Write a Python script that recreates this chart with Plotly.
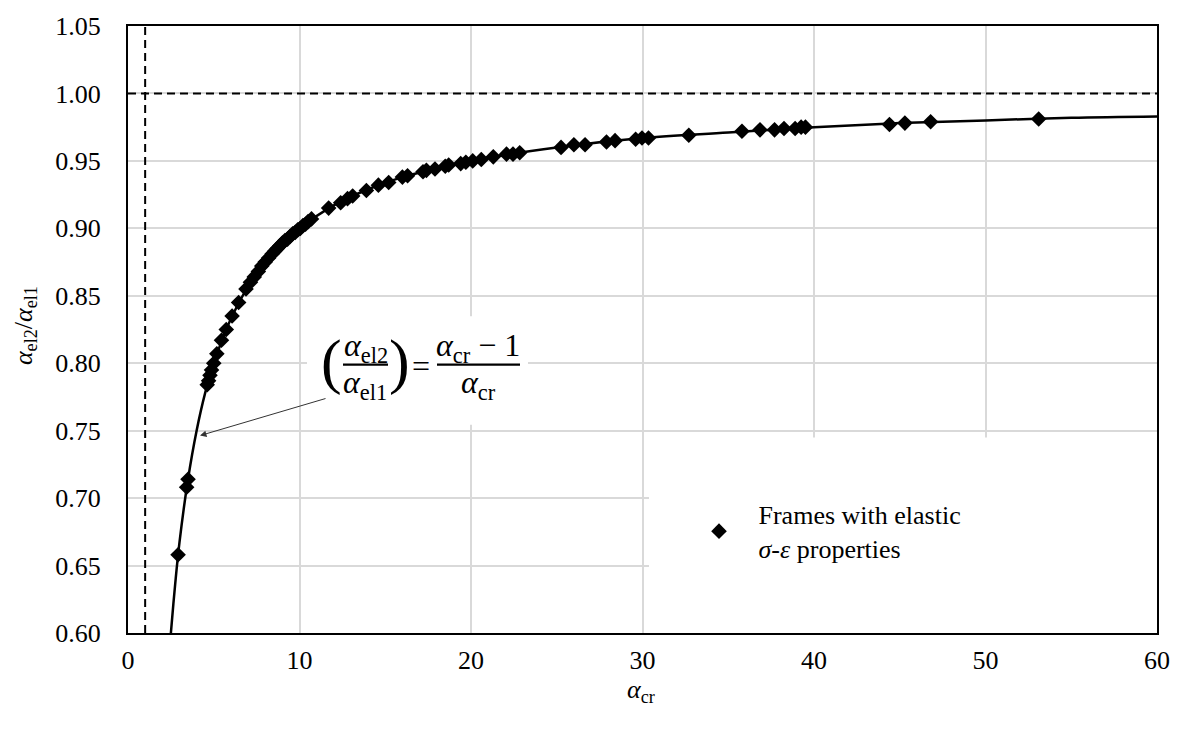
import plotly.graph_objects as go

# ---------------- data ----------------
alpha_cr = [2.92, 3.42, 3.50, 4.62, 4.70, 4.78, 4.87, 5.00, 5.18, 5.45, 5.73, 6.07,
            6.45, 6.88, 7.14, 7.36, 7.60, 7.80, 8.00, 8.20, 8.40, 8.55, 8.70, 8.85,
            9.00, 9.15, 9.30, 9.45, 9.60, 9.75, 9.90, 10.05, 10.20, 10.35, 10.50, 10.70,
            11.7, 12.4, 12.8, 13.1, 13.9, 14.6, 15.2, 16.0, 16.3, 17.2, 17.4, 17.9,
            18.5, 18.7, 19.4, 19.7, 20.1, 20.6, 21.3, 22.07, 22.45, 22.84, 25.25, 26.0,
            26.65, 27.9, 28.4, 29.6, 29.97, 30.35, 32.7, 35.8, 36.85, 37.7, 38.25, 38.9,
            39.25, 39.5, 44.4, 45.3, 46.8, 53.1]
ratio = [0.658, 0.708, 0.714, 0.784, 0.787, 0.791, 0.795, 0.800, 0.807, 0.817, 0.825, 0.835,
         0.845, 0.855, 0.860, 0.864, 0.868, 0.872, 0.875, 0.878, 0.881, 0.883, 0.885, 0.887,
         0.889, 0.891, 0.892, 0.894, 0.896, 0.897, 0.899, 0.900, 0.902, 0.903, 0.905, 0.907,
         0.915, 0.919, 0.922, 0.924, 0.928, 0.932, 0.934, 0.938, 0.939, 0.942, 0.943, 0.944,
         0.946, 0.947, 0.948, 0.949, 0.950, 0.951, 0.953, 0.955, 0.955, 0.956, 0.960, 0.962,
         0.962, 0.964, 0.965, 0.966, 0.967, 0.967, 0.969, 0.972, 0.973, 0.973, 0.974, 0.974,
         0.975, 0.975, 0.977, 0.978, 0.979, 0.981]

curve_alpha_cr = [2.4, 2.5, 2.75, 3.0, 3.5, 4.0, 4.5, 5.0, 6.0, 7.0, 8.0, 9.0, 10.0, 12.0,
                  14.0, 16.0, 18.0, 20.0, 25.0, 30.0, 35.0, 40.0, 45.0, 50.0, 55.0, 60.0]
curve_ratio = [0.583, 0.600, 0.636, 0.667, 0.714, 0.750, 0.778, 0.800, 0.833, 0.857, 0.875,
               0.889, 0.900, 0.917, 0.929, 0.938, 0.944, 0.950, 0.960, 0.967, 0.971, 0.975,
               0.978, 0.980, 0.982, 0.983]

x_ticks = [0, 10, 20, 30, 40, 50, 60]
y_ticks = [0.60, 0.65, 0.70, 0.75, 0.80, 0.85, 0.90, 0.95, 1.00, 1.05]
ref_ratio = 1.00
ref_alpha = 1.0

legend_label = "\u00a0\u00a0\u00a0Frames with elastic<br>\u00a0\u00a0\u00a0<i>σ</i>-<i>ε</i> properties"

# ---------------- layout geometry ----------------
W, H = 1182, 731
L, R, T, B = 128, 25, 18, 98
X0, X1 = 0, 60
Y0, Y1 = 0.60, 1.05
PW, PH = W - L - R, H - T - B
FONT = "Times New Roman, Liberation Serif, serif"


def dx(px):
    return X0 + (px - L) / PW * (X1 - X0)


def dy(py):
    return Y0 + (H - B - py) / PH * (Y1 - Y0)


fig = go.Figure()
fig.add_trace(go.Scatter(
    x=curve_alpha_cr, y=curve_ratio, mode="lines",
    line=dict(color="black", width=2.5, shape="spline"),
    showlegend=False, hoverinfo="skip"))
fig.add_trace(go.Scatter(
    x=alpha_cr, y=ratio, mode="markers", name=legend_label,
    marker=dict(symbol="diamond", size=12, color="black")))

shapes = [
    # white boxes behind the equation and legend (cover gridlines)
    dict(type="rect", xref="x", yref="y", x0=dx(307), x1=dx(528), y0=dy(422), y1=dy(312),
         fillcolor="white", line=dict(width=0), layer="between"),
    dict(type="rect", xref="x", yref="y", x0=dx(649), x1=X1, y0=Y0, y1=dy(435),
         fillcolor="white", line=dict(width=0), layer="between"),
    # dashed reference lines
    dict(type="line", xref="x", yref="y", x0=X0, x1=X1, y0=ref_ratio, y1=ref_ratio,
         line=dict(color="black", width=2, dash="8px,5px")),
    dict(type="line", xref="x", yref="y", x0=ref_alpha, x1=ref_alpha, y0=Y0, y1=Y1,
         line=dict(color="black", width=2, dash="8px,5px")),
    # fraction bars of the equation
    dict(type="line", xref="x", yref="y", x0=dx(343), x1=dx(388), y0=dy(361), y1=dy(361),
         line=dict(color="black", width=2.2)),
    dict(type="line", xref="x", yref="y", x0=dx(437), x1=dx(520), y0=dy(361), y1=dy(361),
         line=dict(color="black", width=2.2)),
]


def txt(text, px, py, size=32, **kw):
    return dict(text=text, xref="x", yref="y", x=dx(px), y=dy(py), showarrow=False,
                font=dict(family=FONT, size=size, color="black"),
                xanchor="center", yanchor="middle", **kw)


annotations = [
    txt("(", 331, 358, size=62),
    txt(")", 399, 358, size=62),
    txt("<i>α</i><sub>el2</sub>", 366, 344),
    txt("<i>α</i><sub>el1</sub>", 365, 381),
    txt("=", 421, 362),
    txt("<i>α</i><sub>cr</sub> − 1", 478, 344),
    txt("<i>α</i><sub>cr</sub>", 478, 381),
    # arrow
    dict(text="", xref="x", yref="y", axref="x", ayref="y",
         x=dx(200), y=dy(433), ax=dx(327), ay=dy(395),
         showarrow=True, arrowhead=2, arrowsize=1.3, arrowwidth=1, arrowcolor="#333333"),
    # axis titles
    dict(text="<i>α</i><sub>el2</sub>/<i>α</i><sub>el1</sub>", xref="paper", yref="paper",
         x=(25 - L) / PW, y=(H - B - 322) / PH, textangle=-90, showarrow=False,
         font=dict(family=FONT, size=26, color="black"), xanchor="center", yanchor="middle"),
    dict(text="<i>α</i><sub>cr</sub>", xref="paper", yref="paper",
         x=(641 - L) / PW, y=-(692 - (H - B)) / PH, showarrow=False,
         font=dict(family=FONT, size=26, color="black"), xanchor="center", yanchor="middle"),
]

axis_common = dict(
    showgrid=True, gridcolor="#d9d9d9", gridwidth=1.5,
    showline=True, linecolor="black", linewidth=2, mirror=True,
    zeroline=False, ticks="", tickfont=dict(family=FONT, size=26, color="black"),
)

fig.update_layout(
    width=W, height=H,
    margin=dict(l=L, r=R, t=T, b=B),
    paper_bgcolor="white", plot_bgcolor="white",
    font=dict(family=FONT),
    xaxis=dict(range=[X0, X1], tickvals=x_ticks, ticklabelstandoff=3, **axis_common),
    yaxis=dict(range=[Y0, Y1], tickvals=y_ticks, tickformat=".2f", ticklabelstandoff=20,
               **axis_common),
    shapes=shapes, annotations=annotations,
    showlegend=True,
    legend=dict(x=(699 - L) / PW, y=(H - B - 489) / PH, xanchor="left", yanchor="top",
                bgcolor="rgba(0,0,0,0)", borderwidth=0,
                font=dict(family=FONT, size=26, color="black")),
)

fig.write_html("out.html")
